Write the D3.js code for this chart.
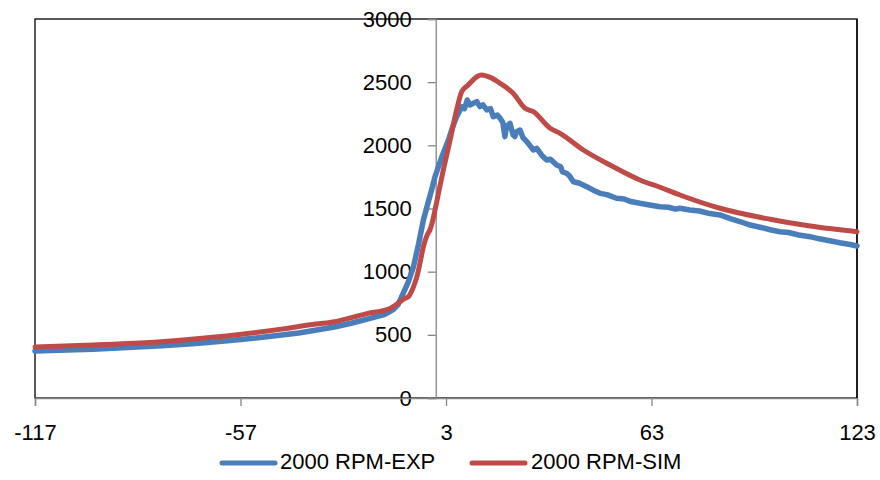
<!DOCTYPE html>
<html>
<head>
<meta charset="utf-8">
<script src="https://cdn.jsdelivr.net/npm/d3@7"></script>
<style>
  body { margin: 0; background: #fff; }
  svg { display: block; font-family: "Liberation Sans", Arial, sans-serif; }
</style>
</head>
<body>
<svg id="chart" width="880" height="480"></svg>
<script>
// Crank-angle ticks and axis values
const xTicks = [-117, -57, 3, 63, 123];
const yTicks = [0, 500, 1000, 1500, 2000, 2500, 3000];

const expX = [-117, -110, -100, -90, -80, -70, -60, -50, -40, -30, -25, -20, -15, -12.4, -11, -9.5, -8, -6.5, -5, -3.6,
  -2.5, -1.2, -0.2, 1.8, 3.7, 5, 6.1, 7.6, 8.4, 9.2, 10, 11, 12, 12.9, 13.8, 14.9, 16, 16.8, 18, 18.8,
  19.6, 20.2, 20.7, 21.2, 21.7, 22.6, 23.1, 23.6, 24.6, 25.5, 26.6, 28.5, 29.5, 31, 32.4, 33.5, 35.3, 36.5, 37, 38.2,
  39, 40.2, 42, 44.1, 46, 48, 50, 52.8, 55, 57, 59.6, 62, 65.5, 68, 70, 71.3, 74.2, 77, 80, 83,
  86, 89, 91.8, 95, 98, 100.5, 103, 106, 109.3, 112, 115, 118, 121, 123];
const expY = [372, 378, 386, 400, 414, 432, 455, 482, 515, 560, 590, 625, 660, 700, 740, 829, 920, 1039, 1220, 1409,
  1520, 1647, 1752, 1910, 2042, 2150, 2227, 2306, 2290, 2359, 2320, 2333, 2346, 2306, 2320, 2280, 2290, 2227, 2240, 2214,
  2180, 2069, 2150, 2161, 2174, 2082, 2069, 2108, 2121, 2060, 2029, 1963, 1976, 1920, 1884, 1890, 1844, 1830, 1790, 1779,
  1760, 1712, 1700, 1673, 1645, 1620, 1610, 1581, 1575, 1555, 1541, 1530, 1514, 1510, 1495, 1502, 1488, 1480, 1460, 1449,
  1420, 1395, 1369, 1350, 1330, 1316, 1310, 1290, 1277, 1260, 1245, 1229, 1215, 1203];

// 2000 RPM simulated trace
const simX = [-117, -100, -88, -73, -58.6, -45, -35, -29.4, -24, -19.8, -16, -13.9, -11.5, -9, -8, -6.5, -5.5, -4.5, -3.6, -2.5,
  -1.7, -1, -0.2, 1.8, 4.2, 6.1, 7.6, 9.5, 12, 13.4, 15.9, 18.8, 22.6, 26.1, 28.5, 33.4, 36.3, 43.1, 50.9, 59.6,
  65.5, 71.3, 83, 97.6, 109.3, 123];
const simY = [404, 420, 433, 462, 499, 545, 585, 604, 640, 670, 688, 702, 740, 789, 802, 880, 960, 1080, 1198, 1290,
  1330, 1390, 1488, 1752, 2042, 2280, 2425, 2478, 2543, 2557, 2538, 2491, 2412, 2293, 2266, 2135, 2095, 1963, 1844, 1726,
  1668, 1607, 1502, 1415, 1361, 1316];

const seriesNames = ["2000 RPM-EXP", "2000 RPM-SIM"];
const seriesColors = ["#4a7ebb", "#be4b48"];

const svg = d3.select("#chart");

const x = d3.scaleLinear().domain([-117, 123]).range([35, 857]);
const y = d3.scaleLinear().domain([0, 3000]).range([398, 19]);

const AXIS_GREY = "#868686";
const FONT = 22;
const plain = d => String(d); // keep an ascii hyphen for negatives

// plot-area frame (black)
svg.append("rect")
    .attr("x", x(-117))
    .attr("y", y(3000))
    .attr("width", x(123) - x(-117))
    .attr("height", y(0) - y(3000))
    .attr("fill", "none")
    .attr("stroke", "#000")
    .attr("stroke-width", 1.3);

// y axis sits at x = 0
const yAxis = svg.append("g")
    .attr("transform", `translate(${x(0)},0)`)
    .call(d3.axisLeft(y).tickValues(yTicks).tickSize(8).tickPadding(16).tickFormat(plain));
yAxis.select(".domain").attr("stroke", AXIS_GREY).attr("stroke-width", 1.3);
yAxis.selectAll(".tick line").attr("stroke", AXIS_GREY).attr("stroke-width", 1.3);
yAxis.selectAll("text")
    .attr("font-size", FONT)
    .attr("font-family", "Liberation Sans, Arial, sans-serif")
    .attr("fill", "#000");

// x axis sits at y = 0
const xAxis = svg.append("g")
    .attr("transform", `translate(0,${y(0)})`)
    .call(d3.axisBottom(x).tickValues(xTicks).tickSize(8).tickPadding(18).tickFormat(plain));
xAxis.select(".domain").attr("stroke", AXIS_GREY).attr("stroke-width", 1.5);
xAxis.selectAll(".tick line").attr("stroke", AXIS_GREY).attr("stroke-width", 1.3);
xAxis.selectAll("text")
    .attr("font-size", FONT)
    .attr("font-family", "Liberation Sans, Arial, sans-serif")
    .attr("fill", "#000");

// right frame edge drawn back over the axis end
svg.append("line")
    .attr("x1", x(123)).attr("x2", x(123))
    .attr("y1", y(3000)).attr("y2", y(0))
    .attr("stroke", "#000").attr("stroke-width", 1.3);

// curves
const expData = expX.map((v, i) => [v, expY[i]]);
const simData = simX.map((v, i) => [v, simY[i]]);

const lineExp = d3.line().x(d => x(d[0])).y(d => y(d[1])).curve(d3.curveLinear);
const lineSim = d3.line().x(d => x(d[0])).y(d => y(d[1])).curve(d3.curveMonotoneX);

svg.append("path")
    .datum(expData)
    .attr("d", lineExp)
    .attr("fill", "none")
    .attr("stroke", seriesColors[0])
    .attr("stroke-width", 5.5)
    .attr("stroke-linejoin", "round")
    .attr("stroke-linecap", "round");

svg.append("path")
    .datum(simData)
    .attr("d", lineSim)
    .attr("fill", "none")
    .attr("stroke", seriesColors[1])
    .attr("stroke-width", 5)
    .attr("stroke-linejoin", "round")
    .attr("stroke-linecap", "round");

// legend
const legendItems = [{ x0: 222, tx: 280 }, { x0: 472, tx: 531 }];
const legend = svg.append("g");
legendItems.forEach((it, i) => {
    legend.append("line")
        .attr("x1", it.x0).attr("x2", it.x0 + 53)
        .attr("y1", 463).attr("y2", 463)
        .attr("stroke", seriesColors[i])
        .attr("stroke-width", 5)
        .attr("stroke-linecap", "round");
    legend.append("text")
        .attr("x", it.tx)
        .attr("y", 469)
        .attr("font-size", FONT)
        .attr("fill", "#000")
        .text(seriesNames[i]);
});
</script>
</body>
</html>
